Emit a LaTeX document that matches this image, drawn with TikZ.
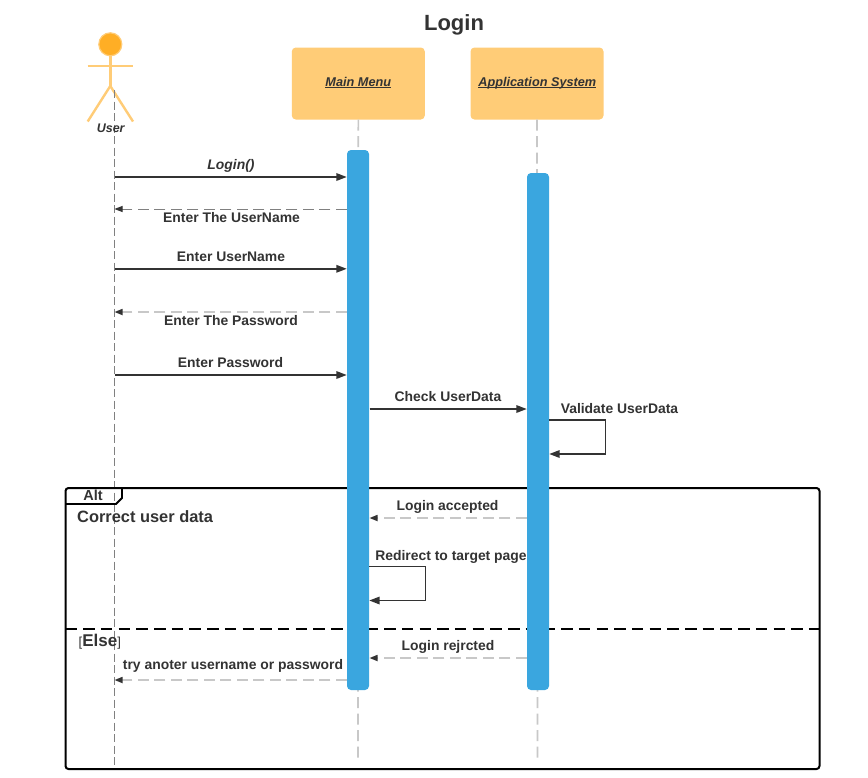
\documentclass[tikz,border=0pt]{standalone}
\usepackage{fontspec}
\setmainfont{Liberation Sans}
\usetikzlibrary{arrows.meta}
\definecolor{txtcol}{HTML}{333333}
\definecolor{boxcol}{HTML}{FFCC77}
\definecolor{headcol}{HTML}{FFAE25}
\definecolor{barcol}{HTML}{3AA6DF}
\definecolor{dashcol}{HTML}{C8C8C8}
\tikzset{
  lifeline/.style={draw=gray, dash pattern=on 8pt off 3.5pt, line width=.8pt},
  softline/.style={draw=dashcol, dash pattern=on 11pt off 5.5pt, line width=1.6pt},
  classbox/.style={draw=none, fill=boxcol, rounded corners=4pt, minimum width=133pt, minimum height=72pt, inner sep=0pt, text=txtcol},
  boxlabel/.style={font=\fontsize{12.7}{15}\selectfont\bfseries\itshape, text=txtcol, inner sep=0pt, anchor=base},
  actbar/.style={draw=none, fill=barcol, rounded corners=4pt, minimum width=22pt, inner sep=0pt},
  call/.style={draw=txtcol, line width=1.7pt, -{Triangle[length=10.5pt,width=7.5pt]}},
  reply/.style={draw=dashcol, line width=1.6pt, dash pattern=on 11pt off 5.5pt, -{Triangle[length=8pt,width=6pt,color=txtcol]}},
  msg/.style={font=\fontsize{13.9}{15}\selectfont\bfseries, text=txtcol, inner sep=0pt, anchor=base},
  stick/.style={draw=boxcol, line width=2.4pt},
}
\newcommand{\boxtext}[1]{\underline{\smash{#1}}}
\begin{document}
\begin{tikzpicture}[x=1pt,y=-1pt]
  \useasboundingbox[fill=white] (0,0) rectangle (868,777);

  \node[font=\fontsize{22}{24}\selectfont\bfseries, text=txtcol, inner sep=0pt, anchor=base] (title) at (454,30) {Login};

  % actor
  \node[circle, draw=boxcol, fill=headcol, line width=1.2pt, minimum size=23pt, inner sep=0pt] (head) at (110.3,44.3) {};
  \coordinate (hip) at (110.3,86);
  \draw[stick] (head.south) -- (hip);
  \draw[stick] (87.7,66) -- (133,66);
  \draw[stick] (hip) -- (87.7,121.5);
  \draw[stick] (hip) -- (133,121.5);

  % boxes
  \node[classbox] (menu) at (358.3,83.5) {};
  \node[classbox] (app) at (537,83.5) {};
  \node[boxlabel] (menuText) at (358.3,86) {\boxtext{Main Menu}};
  \node[boxlabel] (appText) at (537.3,86) {\boxtext{Application System}};

  % lifelines
  \coordinate (userTop) at (114.5,90);
  \coordinate (userEnd) at (114.5,768);
  \coordinate (menuEnd) at (358,758);
  \coordinate (appEnd) at (537.5,758);
  \draw[lifeline] (userTop) -- (userEnd);
  \draw[softline] (menu.south) -- (menuEnd);
  \draw[softline] (app.south) -- (appEnd);

  \node[font=\fontsize{12.5}{14}\selectfont\bfseries\itshape, text=txtcol, inner sep=0pt, anchor=base] (user) at (110.7,132) {User};

  % alt frame
  \coordinate (fa) at (65.5,488);
  \coordinate (fb) at (819.5,769);
  \coordinate (fc) at (65.5,628.5);
  \coordinate (fd) at (819.5,628.5);
  \draw[black, line width=2pt, rounded corners=3pt] (fa) rectangle (fb);
  \draw[black, line width=1.8pt] (65.5,504) -- (116,504) -- (122,498) -- (122,488);
  \draw[black, line width=2pt, dash pattern=on 11.5pt off 6.2pt] (fc) -- (fd);
  \node[font=\fontsize{14.5}{16}\selectfont\bfseries, text=txtcol, inner sep=0pt, anchor=base] (alt) at (93,500.5) {Alt};
  \node[font=\fontsize{16.4}{18}\selectfont\bfseries, text=txtcol, inner sep=0pt, anchor=base west] (correct) at (77,522.3) {Correct user data};
  \node[text=txtcol, inner sep=0pt, anchor=base west] (else) at (78.5,646.5) {\fontsize{13}{15}\selectfont[\fontsize{17}{18}\selectfont\bfseries Else\fontsize{13}{15}\selectfont\mdseries]};

  % bars
  \node[actbar, minimum height=540pt] (menuBar) at (358,420) {};
  \node[actbar, minimum height=517pt] (appBar) at (538,431.5) {};

  % messages
  \coordinate (u1) at (114.5,177);
  \coordinate (u2) at (114.5,209);
  \coordinate (u3) at (114.5,268.8);
  \coordinate (u4) at (114.5,312);
  \coordinate (u5) at (114.5,375);
  \coordinate (u6) at (114.5,680);
  \coordinate (m1) at (369.5,409);
  \coordinate (m2) at (369.5,518);
  \coordinate (m3) at (369.5,658);

  \draw[call] (u1) -- (menuBar.west |- u1);
  \draw[reply, draw=gray, line width=.9pt] (menuBar.west |- u2) -- (u2);
  \draw[call] (u3) -- (menuBar.west |- u3);
  \draw[reply] (menuBar.west |- u4) -- (u4);
  \draw[call] (u5) -- (menuBar.west |- u5);
  \draw[call] (m1) -- (appBar.west |- m1);
  \draw[reply] (appBar.west |- m2) -- (m2);
  \draw[reply] (appBar.west |- m3) -- (m3);
  \draw[reply] (menuBar.west |- u6) -- (u6);

  % self calls
  \coordinate (selfApp) at (605.5,420);
  \coordinate (selfMenu) at (425.5,566.5);
  \draw[call] (appBar.east |- selfApp) -- (selfApp) -- (605.5,454) -- (appBar.east |- 0,454);
  \draw[call] (menuBar.east |- selfMenu) -- (selfMenu) -- (425.5,600.5) -- (menuBar.east |- 0,600.5);

  % labels
  \node[msg, font=\fontsize{13.9}{15}\selectfont\bfseries\itshape] (lLogin) at (231,169) {Login()};
  \node[msg] (lEnterName) at (231.5,222) {Enter The UserName};
  \node[msg] (lUserName) at (231,261) {Enter UserName};
  \node[msg] (lEnterPass) at (231,325) {Enter The Password};
  \node[msg] (lPass) at (230.5,367) {Enter Password};
  \node[msg] (lCheck) at (448,401.5) {Check UserData};
  \node[msg] (lValid) at (619.5,413) {Validate UserData};
  \node[msg] (lAccept) at (447.5,510) {Login accepted};
  \node[msg] (lRedirect) at (451,560) {Redirect to target page};
  \node[msg] (lReject) at (448,650) {Login rejrcted};
  \node[msg] (lTry) at (233,669) {try anoter username or password};
\end{tikzpicture}
\end{document}
